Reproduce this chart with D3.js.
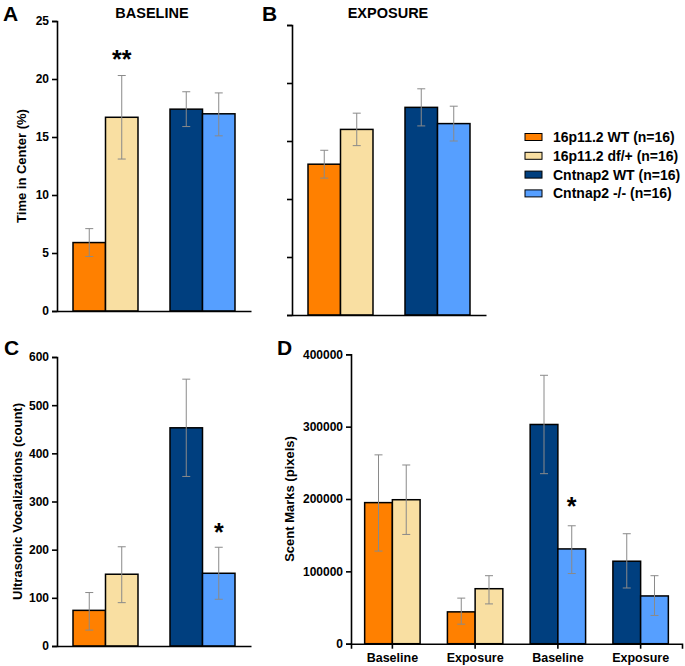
<!DOCTYPE html>
<html>
<head>
<meta charset="utf-8">
<script src="https://cdn.jsdelivr.net/npm/d3@7"></script>
<style>
  body { margin: 0; background: #fff; }
  svg { font-family: "Liberation Sans", Arial, sans-serif; font-weight: bold; }
</style>
</head>
<body>
<div id="chart"></div>
<script>
// groups / series
const series = ["16p11.2 WT (n=16)", "16p11.2 df/+ (n=16)", "Cntnap2 WT (n=16)", "Cntnap2 -/- (n=16)"];
const colors = ["#ff8000", "#f9dfa2", "#003f7f", "#569fff"];
const lines = ["16p11.2", "Cntnap2"];

// A: time in center (%), baseline
const baselineMean = [5.9, 16.7, 17.4, 17.0];
const baselineLo = [4.7, 13.1, 15.9, 15.1];
const baselineHi = [7.1, 20.3, 18.9, 18.8];

// B: time in center (%), exposure
const exposureMean = [13.0, 16.0, 17.9, 16.5];
const exposureLo = [11.8, 14.6, 16.3, 15.0];
const exposureHi = [14.2, 17.4, 19.5, 18.0];

// C: ultrasonic vocalizations
const usvMean = [74, 149, 453, 151];
const usvLo = [33, 90, 352, 97];
const usvHi = [111, 206, 554, 205];

// D: scent marks, 4 condition groups
const scentGroups = ["Baseline", "Exposure", "Baseline ", "Exposure "];
const scentSeries = [[0, 1], [0, 1], [2, 3], [2, 3]];
const scentMean = [[195000, 199000], [44000, 76000], [303000, 131000], [114000, 66000]];
const scentLo = [[128000, 151000], [27000, 55000], [235000, 97000], [77000, 39000]];
const scentHi = [[261000, 247000], [63000, 94000], [371000, 163000], [152000, 94000]];

const yTicksA = [0, 5, 10, 15, 20, 25];
const yTicksC = [0, 100, 200, 300, 400, 500, 600];
const yTicksD = [0, 100000, 200000, 300000, 400000];

const width = 685, height = 666;

const svg = d3.select("#chart").append("svg")
    .attr("width", width)
    .attr("height", height);

function panel(opt) {
    const g = svg.append("g");
    const x = d3.scaleBand()
        .domain(opt.groups)
        .range(opt.xr)
        .paddingInner(0.33)
        .paddingOuter(0.165);
    const sub = d3.scaleBand()
        .domain([0, 1])
        .range([0, x.bandwidth()]);
    const y = d3.scaleLinear()
        .domain(opt.domain)
        .range(opt.yr);

    const bars = [];
    opt.groups.forEach((grp, gi) => {
        [0, 1].forEach(j => {
            bars.push({
                grp: grp, j: j,
                s: opt.seriesOf(gi, j),
                v: opt.mean(gi, j),
                lo: opt.lo(gi, j),
                hi: opt.hi(gi, j)
            });
        });
    });

    g.selectAll("rect.bar")
        .data(bars)
        .enter().append("rect")
        .attr("class", "bar")
        .attr("x", d => x(d.grp) + sub(d.j))
        .attr("width", sub.bandwidth())
        .attr("y", d => y(d.v))
        .attr("height", d => y(0) - y(d.v))
        .attr("fill", d => colors[d.s])
        .attr("stroke", "#000")
        .attr("stroke-width", 1.5);

    const cx = d => x(d.grp) + sub(d.j) + sub.bandwidth() / 2;
    const err = g.selectAll("g.err")
        .data(bars)
        .enter().append("g")
        .attr("stroke", "#8a8a8a")
        .attr("stroke-width", 1);
    err.append("line")
        .attr("x1", cx).attr("x2", cx)
        .attr("y1", d => y(d.lo)).attr("y2", d => y(d.hi));
    err.append("line")
        .attr("x1", d => cx(d) - 4).attr("x2", d => cx(d) + 4)
        .attr("y1", d => y(d.hi)).attr("y2", d => y(d.hi));
    err.append("line")
        .attr("x1", d => cx(d) - 4).attr("x2", d => cx(d) + 4)
        .attr("y1", d => y(d.lo)).attr("y2", d => y(d.lo));

    // y axis
    const ya = g.append("g")
        .attr("transform", `translate(${opt.xr[0]},0)`)
        .call(d3.axisLeft(y).tickValues(opt.ticks).tickSizeOuter(0).tickSize(5)
            .tickFormat(opt.tickLabels ? d3.format("d") : ""));
    ya.selectAll("text").attr("font-size", 12).attr("font-family", null).attr("fill", "#000");
    ya.selectAll("path, line").attr("stroke", "#000").attr("stroke-width", 1.6);

    // x axis
    const xa = g.append("g")
        .attr("transform", `translate(0,${y(0)})`)
        .call(d3.axisBottom(x).tickSizeOuter(0).tickSize(opt.xLabels ? 5 : 0).tickPadding(4)
            .tickFormat(opt.xLabels ? (d => d.trim()) : ""));
    xa.selectAll("text").attr("font-size", 12.5).attr("font-family", null).attr("fill", "#000");
    xa.selectAll("path, line").attr("stroke", "#000").attr("stroke-width", 1.6);

    if (opt.ylabel) {
        g.append("text")
            .attr("transform", `translate(${opt.ylabelX},${(opt.yr[0] + opt.yr[1]) / 2}) rotate(-90)`)
            .attr("text-anchor", "middle")
            .attr("font-size", 13)
            .text(opt.ylabel);
    }
    if (opt.title) {
        g.append("text")
            .attr("x", (opt.xr[0] + opt.xr[1]) / 2 + opt.titleDx)
            .attr("y", 18)
            .attr("text-anchor", "middle")
            .attr("font-size", 14.5)
            .text(opt.title);
    }
    g.append("text")
        .attr("x", opt.letterXY[0])
        .attr("y", opt.letterXY[1])
        .attr("font-size", 21)
        .text(opt.letter);

    (opt.sig || []).forEach(sg => {
        const b = bars.find(d => d.grp === opt.groups[sg.g] && d.j === sg.j);
        g.append("text")
            .attr("x", cx(b))
            .attr("y", y(b.hi) - opt.sigGap)
            .attr("text-anchor", "middle")
            .attr("font-size", 25)
            .text(sg.label);
    });
}

panel({
    groups: lines, xr: [57, 251], yr: [311, 21], domain: [0, 25],
    seriesOf: (gi, j) => gi * 2 + j,
    mean: (gi, j) => baselineMean[gi * 2 + j],
    lo: (gi, j) => baselineLo[gi * 2 + j],
    hi: (gi, j) => baselineHi[gi * 2 + j],
    ticks: yTicksA, tickLabels: true,
    ylabel: "Time in Center (%)", ylabelX: 26,
    title: "BASELINE", titleDx: -2,
    letter: "A", letterXY: [3, 21],
    sig: [{ g: 0, j: 1, label: "**" }], sigGap: 8
});

panel({
    groups: lines, xr: [292, 486], yr: [315, 25], domain: [0, 25],
    seriesOf: (gi, j) => gi * 2 + j,
    mean: (gi, j) => exposureMean[gi * 2 + j],
    lo: (gi, j) => exposureLo[gi * 2 + j],
    hi: (gi, j) => exposureHi[gi * 2 + j],
    ticks: yTicksA, tickLabels: false,
    title: "EXPOSURE", titleDx: -1,
    letter: "B", letterXY: [262, 21]
});

panel({
    groups: lines, xr: [57, 251], yr: [646, 357], domain: [0, 600],
    seriesOf: (gi, j) => gi * 2 + j,
    mean: (gi, j) => usvMean[gi * 2 + j],
    lo: (gi, j) => usvLo[gi * 2 + j],
    hi: (gi, j) => usvHi[gi * 2 + j],
    ticks: yTicksC, tickLabels: true,
    ylabel: "Ultrasonic Vocalizations (count)", ylabelX: 22,
    letter: "C", letterXY: [4, 355],
    sig: [{ g: 1, j: 1, label: "*" }], sigGap: 6
});

panel({
    groups: scentGroups, xr: [351, 682], yr: [643.7, 354.3], domain: [0, 400000],
    seriesOf: (gi, j) => scentSeries[gi][j],
    mean: (gi, j) => scentMean[gi][j],
    lo: (gi, j) => scentLo[gi][j],
    hi: (gi, j) => scentHi[gi][j],
    ticks: yTicksD, tickLabels: true, xLabels: true,
    ylabel: "Scent Marks (pixels)", ylabelX: 294,
    letter: "D", letterXY: [277, 355],
    sig: [{ g: 2, j: 1, label: "*" }], sigGap: 11
});

// legend
const legend = svg.append("g").attr("transform", "translate(525,137)");
const item = legend.selectAll("g")
    .data(series)
    .enter().append("g")
    .attr("transform", (d, i) => `translate(0,${i * 18.8})`);
item.append("rect")
    .attr("x", 0).attr("y", -3.5)
    .attr("width", 17).attr("height", 7)
    .attr("fill", (d, i) => colors[i])
    .attr("stroke", "#000")
    .attr("stroke-width", 1);
item.append("text")
    .attr("x", 28).attr("y", 5)
    .attr("font-size", 14)
    .text(d => d);
</script>
</body>
</html>
